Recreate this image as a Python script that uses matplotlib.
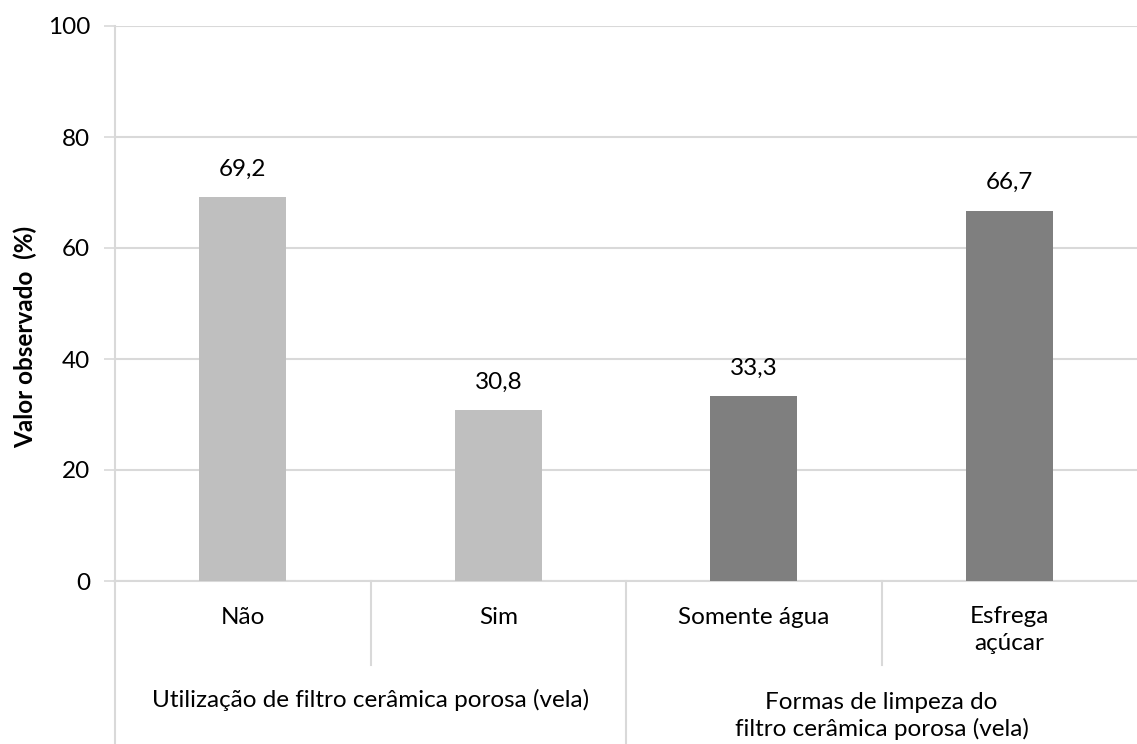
import matplotlib
matplotlib.use('Agg')
import matplotlib.pyplot as plt
import matplotlib.transforms as mtransforms

# data
categories = ['Não', 'Sim', 'Somente água', 'Esfrega\naçúcar']
values = [69.2, 30.8, 33.3, 66.7]
value_labels = ['69,2', '30,8', '33,3', '66,7']
groups = ['Utilização de filtro cerâmica porosa (vela)',
          'Formas de limpeza do\nfiltro cerâmica porosa (vela)']
bar_colors = ['#BFBFBF', '#BFBFBF', '#7F7F7F', '#7F7F7F']
yticks = [0, 20, 40, 60, 80, 100]

plt.rcParams['font.family'] = ['Lato', 'DejaVu Sans']
grid_col = '#D9D9D9'
fs = 17.5

fig = plt.figure(figsize=(11.37, 7.44), dpi=100)
ax = fig.add_axes([115 / 1137, 1 - 581 / 744, 1 - 115 / 1137, (581 - 26) / 744])

x = list(range(len(categories)))
ax.bar(x, values, width=0.34, color=bar_colors, zorder=3)
for xi, v, lab in zip(x, values, value_labels):
    ax.annotate(lab, (xi, v), xytext=(0, 28), textcoords='offset pixels',
                ha='center', va='center', fontsize=fs, color='#000000')

ax.set_xlim(-0.5, 3.5)
ax.set_ylim(0, 100)
ax.set_yticks(yticks)
ax.set_yticklabels([str(t) for t in yticks], fontsize=fs)
ax.tick_params(axis='y', length=8, width=1.2, color=grid_col, pad=10)
ax.set_xticks([])
ax.grid(axis='y', color=grid_col, linewidth=1.5, zorder=0)
for s in ['top', 'right']:
    ax.spines[s].set_visible(False)
ax.spines['left'].set_color(grid_col)
ax.spines['left'].set_linewidth(1.5)
ax.spines['bottom'].set_color(grid_col)
ax.spines['bottom'].set_linewidth(1.5)

trans = mtransforms.blended_transform_factory(ax.transData, ax.transAxes)
px = 1 / 555  # one pixel in axes fraction (vertical)

# separators under the axis
for xs in [0.5, 2.5]:
    ax.plot([xs, xs], [0, -84 * px], color=grid_col, lw=1.5, transform=trans, clip_on=False)
for xs in [-0.5, 1.5]:
    ax.plot([xs, xs], [0, -170 * px], color=grid_col, lw=1.5, transform=trans, clip_on=False)

# category labels
cat_y = [-36, -36, -36, -49]
for xi, lab, cy in zip(x, categories, cat_y):
    ax.text(xi, cy * px, lab, transform=trans, ha='center', va='center',
            fontsize=fs, linespacing=1.3)

# group labels
ax.text(0.5, -119 * px, groups[0], transform=trans, ha='center', va='center', fontsize=fs)
ax.text(2.5, -135 * px, groups[1], transform=trans, ha='center', va='center',
        fontsize=fs, linespacing=1.3)

fig.text(25 / 1137, 1 - 337 / 744, 'Valor observado  (%)', rotation=90,
         ha='center', va='center', fontsize=fs, fontweight='bold')

fig.savefig('out.png', dpi=100)
